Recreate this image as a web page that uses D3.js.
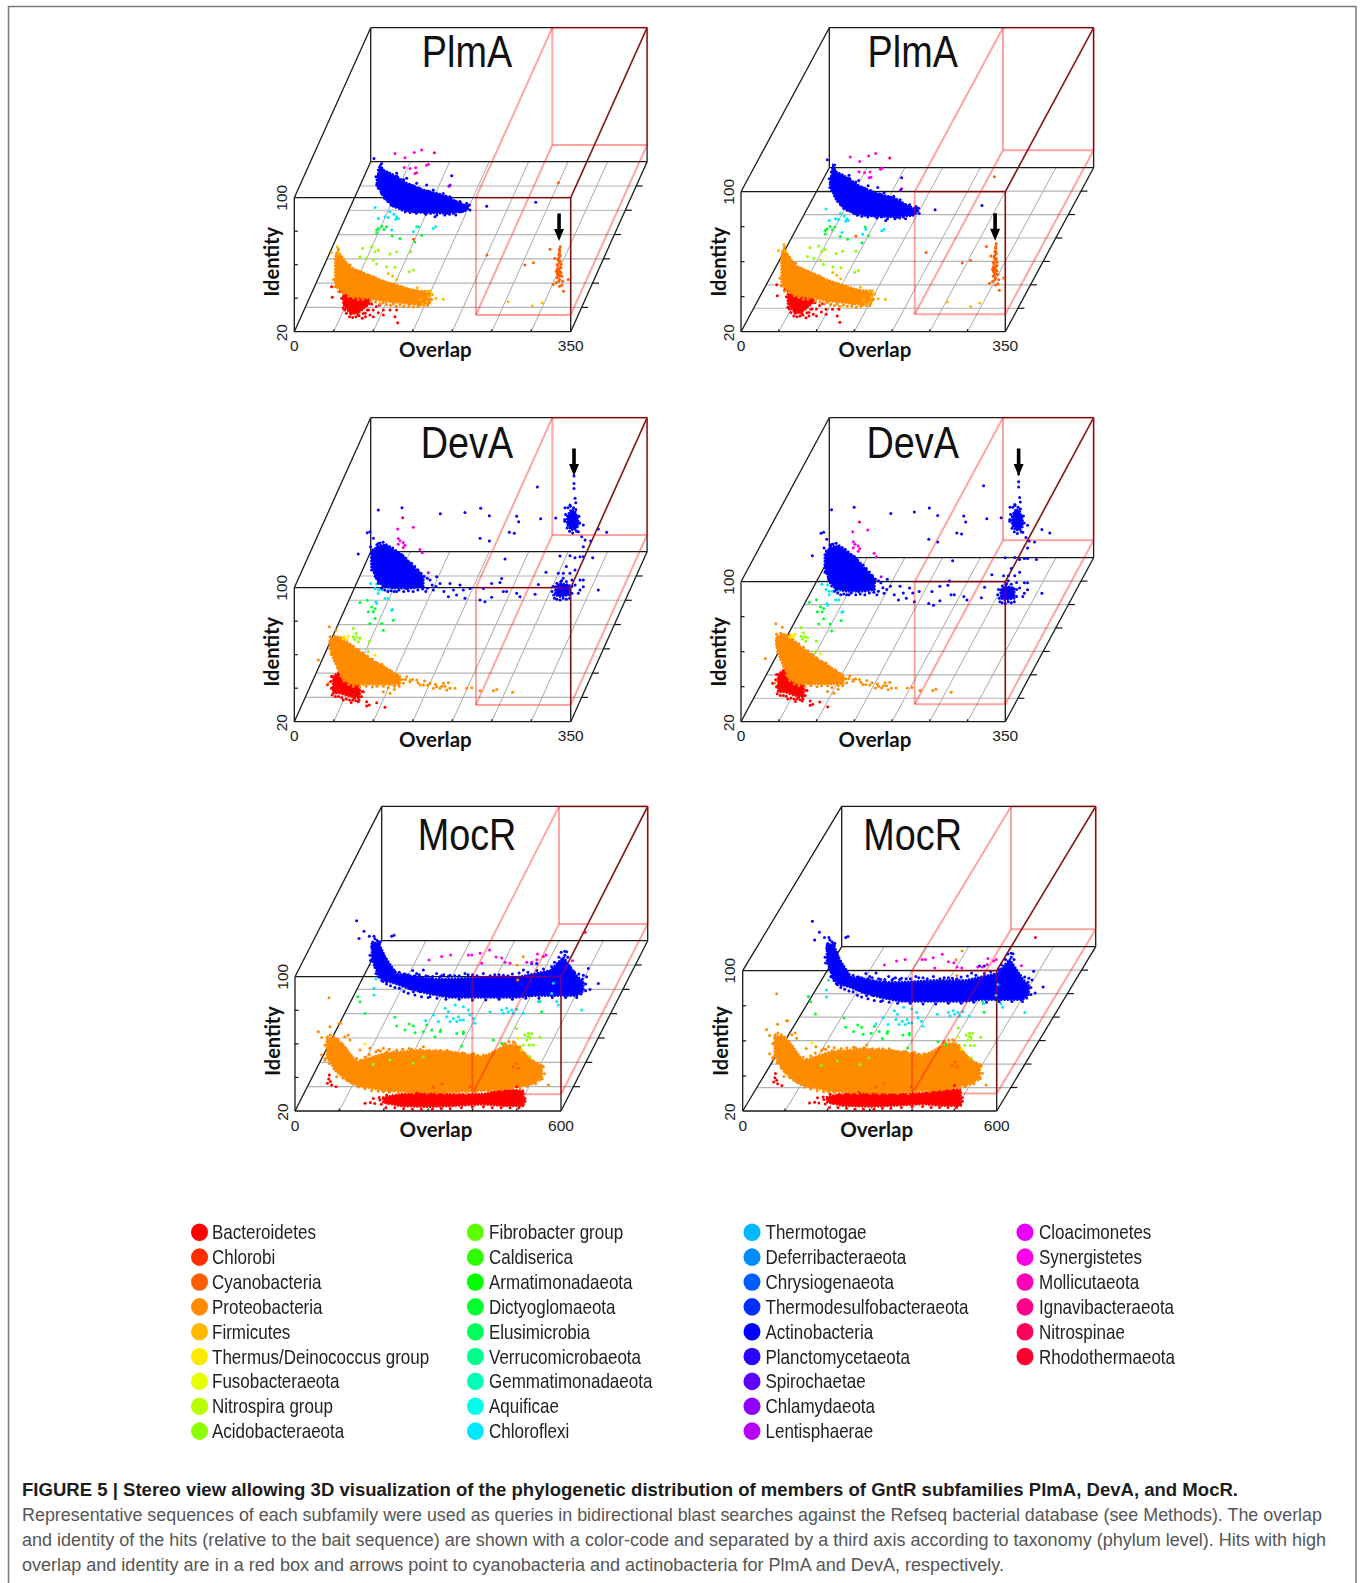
<!DOCTYPE html>
<html><head><meta charset="utf-8">
<script src="https://cdn.jsdelivr.net/npm/d3@7/dist/d3.min.js"></script>
<style>html,body{margin:0;padding:0;background:#fff}svg{display:block}</style>
</head><body><div id="chart"></div>
<script>
// ---------- categories ----------
const phyla = ["Bacteroidetes","Chlorobi","Cyanobacteria","Proteobacteria","Firmicutes","Thermus/Deinococcus group","Fusobacteraeota","Nitrospira group","Acidobacteraeota",
"Fibrobacter group","Caldiserica","Armatimonadaeota","Dictyoglomaeota","Elusimicrobia","Verrucomicrobaeota","Gemmatimonadaeota","Aquificae","Chloroflexi",
"Thermotogae","Deferribacteraeota","Chrysiogenaeota","Thermodesulfobacteraeota","Actinobacteria","Planctomycetaeota","Spirochaetae","Chlamydaeota","Lentisphaerae",
"Cloacimonetes","Synergistetes","Mollicutaeota","Ignavibacteraeota","Nitrospinae","Rhodothermaeota"];
const RED=0,CYANO=2,PROTEO=3,FIRMI=4,THERMUS=5,ACIDO=8,DICTYO=12,CHLORO=17,ACTINO=22,CHLAMY=25,LENTI=26,SYNER=28,RHODO=32;

// ---------- dense clusters: [overlap, identity low, identity high] ----------
const plmaActinoCore=[[40,40,43],[44,37,52],[48,33,49],[61,27,46],[78,24.6,41],[99,23.4,37],[124,23,34],[150,24,28],[156,26,28]];
const plmaProteoCore=[[43,40,54],[46,37,59],[62,32,49],[83,31,45],[104,29,41],[125,28,38],[146,27,35],[163,28,35]];
const plmaRedCore=[[62,36,47],[71,31,47],[83,32,47],[96,37,45]];
const devaActinoCore=[[33,45,53],[40,37,57],[48,33,58],[61,32,55],[74,32,51],[86,32,45],[99,33,39]];
const devaActinoCore2=[[266,28,33],[272,27,35],[284,28,34]];
const devaActinoCore3=[[281,70,75],[286,67,79],[291,67,78],[295,69,73]];
const devaProteoCore=[[36,55,59],[41,48,61],[53,36,60],[66,33,55],[79,33,51],[91,33,47],[104,33,44],[117,33,40],[125,33,38]];
const devaRedCore=[[49,37,47],[58,37,50],[71,35,48],[83,34,41]];
const mocrActinoCore=[[43,43,52],[58,33,53],[73,30,44],[99,28,34],[129,25,33],[174,22,31],[219,20,31],[295,20,32],[370,20,32],[407,21,34],[445,21,36],[475,21,44],[505,21,33],[520,24,29]];
const mocrProteoCore=[[54,43,54],[76,34,54],[95,30,49],[121,26,40],[182,23,45],[257,22,47],[332,22,46],[407,23,43],[460,24,50],[482,25,50],[520,27,40],[539,31,38]];
const mocrRedCore=[[199,25,28],[237,23,30],[300,22.5,31],[350,23,30],[425,24,30],[470,23,33],[515,23,32]];

// ---------- individual hits: [overlap, identity] ----------
const plmaActino=[[36.4,55.8],[46.1,52.8],[44,50.8],[41.9,48.9],[38.9,44.9],[39.8,39.9],[46.1,36.9],[54.6,32.9],[60.9,30],[69.3,26],[77.8,25],[86.2,24],[98.9,24],[113.7,21],[128.5,23],[136.9,23],[65.1,46.9],[77.8,43.9],[90.4,40.9],[103.1,39.9],[111.5,36.9],[124.2,34.9],[134.8,45.5],[132.7,32.9],[145.3,30],[153.8,29],[157.2,28],[149.5,24.6],[179.1,27.2],[241.2,29.6],
[42,46],[47,49],[52,47.5],[56,47],[60,45.5],[66,45],[70,43],[74,43],[82,40],[86,39.5],[94,38],[100,36.5],[106,36],[112,34.5],[118,34],[124,33],[128,33],[134,31],[140,30],[146,29],[152,28],
[42,38],[46,35],[50,32],[54,30],[58,28],[64,27],[68,27],[72,25],[76,24],[82,23.5],[90,23],[94,24],[102,22.5],[108,23],[116,22],[120,23.5],[126,22],[132,22.5],[140,22],[146,24],[152,25],[158,25]];
const plmaChlamy=[[122.6,29.9],[124,30.7]];
const plmaSyner=[[45.4,40.3],[58,37.7],[69.9,40.9],[79.2,42.3],[57.2,31.9],[64.4,31.3],[71.6,31.7],[85.5,33.3],[87.6,33.9],[70.7,28.4],[72.8,28.8]];
const plmaRhodo=[[83.6,28.4]];
const plmaChloro=[[52.4,41.9],[71.4,39.3],[65,36.3],[56.6,35.3],[79.8,36.3],[78.5,34.9],[73.5,28.4],[100.9,27.4],[126.2,29.4],[129.2,30.3],[105.1,30.3],[81.9,35.3],[76.4,37.9],[69.2,35.9]];
const plmaDictyo=[[69.1,41.7],[71.2,44.7],[75.4,46.1],[81.7,45.7],[88.9,40.3],[98.6,38.7],[117.6,36.7],[126.1,40.7],[121.9,45.7],[69.1,43.7],[78.4,44.1]];
const plmaAcido=[[74.5,46.2],[78.7,43.2],[63.1,45.2],[59.7,40.2],[68.1,39.2],[76.6,38.2],[80.8,35.8],[82.9,44.2],[106.1,43.2],[97.7,41.8],[124,43.2],[93.5,34.2],[104,33.8],[127.2,32.2],[122.1,31.2]];
const plmaFirmi=[[35.5,55],[42.7,58.4],[44,54.4],[155.9,31.5],[155.9,25.6],[150.8,24.2],[177,27],[167.7,27.6],[107.3,42.5],[112.8,40.9],[117.9,38.9],[259,25.6],[290,23],[302,25],[160,32],[158,28.5],[162,30],[148,27],[144,34]];
const plmaProteo=[[42.7,37.6],[47,34.6],[53.3,33.7],[44.8,57.5],[48.2,54.5],[61.7,50.6],[74.4,46.6],[91.3,43.6],[103.9,40.6],[120.8,37.6],[133.5,35.6],[146.2,35.2],[154.6,33.7],[137.7,27.3],[125,26.7],[116.6,27.3],[103.9,28.1],[150.4,26.7],[161,27.7],
[44,56],[47,60],[50,52],[54,51],[58,50],[65,48.5],[70,47.5],[78,46],[86,44.5],[94,43],[98,42],[110,39.5],[116,39],[128,37.5],[136,36],[142,35.5],[150,34],[158,33.5],
[41,42],[44,38],[50,36],[56,34],[60,32],[66,31],[72,30],[78,30],[88,29],[94,28.5],[100,27.5],[108,27],[113,26.5],[120,26],[130,26],[136,26],[142,25.5],[148,26],[155,26.5],[160,26.5],[165,30],[166,33]];
const plmaRed=[[47.3,46.9],[48.1,40.5],[64.2,40.9],[66.3,35.9],[70.5,32.9],[81,30],[87.4,30.9],[95.8,30],[100,29],[106.4,31.3],[112.7,32.9],[112.7,30],[121.2,32.9],[129.6,32.9],[130.9,25.4],[127.5,29],[98,36.5],[92.5,32.9],
[58,44],[60,40],[62,34],[66,31],[70,29],[74,28.5],[78,29],[82,29.5],[86,28],[90,31],[94,33],[100,33],[104,35],[108,36],[90,29],[76,31],[72,30.5],[64,33],[68,34],[80,31]];
const plmaCyano=[[331,64.6],[330,62],[329,60],[331,59],[328,57],[330,55],[327,54],[332,52],[329,51],[326,50],[331,49],[328,48],[333,47],[327,46],[330,45],[334,44],[326,43],[322,42],[330,41],[335,38],[329,58],[331,56],[328,53],[330,50],[329,47],[327,49],[332,54],[318,63],[324,57.6],[238,59.6],[286,53.6],[297,55],[341,45],[333,41.7],[145,69],[328.5,102.8],[330,60.5],[330,63],[329,56],[331,52],[328,50],[330,47.5],[332,49],[327,51.5],[329,44]];

const devaActino=[[41.9,78.7],[71.9,80],[120.4,76.5],[151.6,77.3],[171.5,79.7],[182.5,75.3],[243.3,92.4],[217,75],[219.6,71.7],[247.5,73.5],[266.5,74],[170.7,61.8],[182.5,60.2],[207.8,65.4],[214.1,64.8],[202.3,49.5],[289.7,99],[289.7,94.6],[289.7,91.6],[291,85.7],[291.9,83],[278.3,80],[284.6,81.7],[301.5,69.8],[295.2,65.8],[299.4,62.8],[303.7,60.8],[301.5,56.8],[310.8,60.2],[331,65.4],[320.5,67.4],[301.5,50.8],[313.3,50.2],[271.9,51.2],[284.6,51.4],[291,50.2],[297.3,50.8],[269.8,40.9],[276.2,40.9],[284.6,40.9],[291,42.9],[297.3,36.9],[301.5,36.9],[254.3,41.5],[244.6,34.3],[240.4,28.4],[320.5,30.9],[297.3,30.9],[301.5,32.9],[291,33.9],[295.2,29],[107.3,36.9],[115.8,38.9],[120,34.9],[111.5,30.9],[132.7,34.9],[145.3,33.9],[158,31.9],[151.6,26],[141,28],[130.6,27],[174.9,31.9],[185.4,34.9],[198,37.9],[200.2,30],[204.4,30],[177,24],[185.4,26.6],[170.7,25],[217.1,29],[221.3,27],[196,35.5],[149.5,31],[16.5,52.4],[31.4,65.8],[28,65.2],[35.6,61.8],[41.9,58.8],[32,56.8],[33.4,42.9],[46,36.9],[48.2,32.9],[65,30],[77.8,31.9],[88.3,33.9],[96.8,33],[102,30],[110,34],[125,30],[137,31],[288,72.5],[284,71],[293,75],[278,73],[280,45],[287,37],[273,36],[276,38],
[35,55],[37,51],[40,58],[44,59],[48,59.5],[52,58],[56,57],[60,56],[64,54.5],[68,53],[72,52],[76,50],[80,48],[84,47],[88,45],[92,43],[96,41],[100,39],[104,38],
[36,43],[38,39],[42,35],[46,32],[50,31],[54,30],[58,30.5],[62,30],[68,31],[74,30],[80,30.5],[86,30],[92,31],[98,31.5],[104,32],[115,33],
[262,30],[263,33],[265,26],[268,25.5],[272,25],[276,26],[280,25.5],[284,26],[287,29],[287,33],[280,36],[274,36.5],[268,35],[264,28],
[278,72],[279,76],[282,80],[285,81],[289,80],[292,79],[296,75],[297,71],[293,66],[288,65],[284,66],[281,68]];
const devaSyner=[[48.8,49],[68.6,50],[49.6,43.3],[51.7,41.9],[55.9,40.9],[49.6,39.9],[58,39.3],[55.9,37.9],[77,36.7],[80,34.7]];
const devaRhodo=[[43.5,43.3]];
const devaLenti=[[93.5,29]];
const devaChloro=[[46.9,50.2],[54.5,49.9],[52.4,47.3],[56.6,46.3],[60.8,46.3],[69.2,46.3],[56.6,44.3],[69.2,41.3],[65,41.3],[53.6,39.3],[54.5,38.3],[73.5,34.3],[74.7,34.7]];
const devaDictyo=[[48,54.2],[57.3,55.6],[62.7,51.6],[58.5,48.7],[67,50.6],[64.9,48.7],[67,44.7],[60.6,41.7],[75.4,41.7],[77.5,37.7],[90.2,43.7]];
const devaThermus=[[49.4,55.4],[53.7,55.8],[87.4,44.5],[52,54],[47,54]];
const devaAcido=[[51.3,51.1],[51.3,46.1],[54.6,48.1],[59.7,45.2],[57.6,43.2],[71.5,43.2],[70.2,37.2],[56,46],[53,44.5]];
const devaProteo=[[120.8,37.6],[125,35.6],[133.5,37.6],[137.7,34.6],[146.2,35.6],[150.4,32.7],[163,33.7],[171.5,31.7],[180,33.7],[186.3,34],[188.4,30.7],[184.2,29.7],[194.7,30.7],[209.5,30.7],[215.8,31],[226.4,29.3],[243.3,29.3],[247.5,30],[267.7,28.3],[112.4,27.7],[103.9,28.7],[21.6,47.6],[35.5,67.5],[44,65.5],[36.4,61.5],[34.2,33.6],[154.6,32.7],[167.3,30.7],[175.7,30.7],[129.3,33.7],[118,30],[128,36],[141,36],[156,35],[178,32],
[38,60],[42,62],[46,61.5],[50,61],[54,61],[58,58.5],[62,57],[66,56],[72,54],[78,52],[84,50],[90,48],[96,46],[102,45],[108,42],[114,41],[120,39],
[38,51],[42,47],[46,43],[50,38],[54,35],[60,33],[66,32],[74,31.5],[82,32],[90,31.5],[96,32],[104,32],[110,31],[118,32],[124,32],[132,36],[138,35.5],[148,34],[160,32.5],[170,33],[182,32]];
const devaRed=[[87.4,37.9],[91.6,31.9],[81,31.9],[104.3,31.3],[95,30],[114.8,28.6],[91.6,29.4],[42,42],[47,47],
[46,44],[47,40],[48,36],[52,35],[56,35],[60,34.5],[66,33.5],[70,33],[74,33],[78,32.5],[82,33],[85,35],[86,38],[80,36],[62,33],[72,31.5],[76,34]];

const mocrActino=[[8.7,65.7],[25.3,59.5],[14,55.1],[37.3,56.5],[47.8,56.5],[87.7,56.5],[92.9,57.1],[61.4,53.2],[42.6,50.2],[38.8,45.2],[52.3,34.3],[65.1,30.3],[76.4,29.3],[91.4,34.3],[106.5,32.3],[121.5,26.4],[136.5,23.4],[144,34.3],[159,36.3],[189,34.3],[219.2,33.3],[174.1,20.4],[527.5,32.3],[553.8,28.3],[535,24.8],[482.4,47.2],[478.6,45.2],[520,33.3],[531.3,37.3],[429.8,34.3],[253,34.3],[294.5,34.3],[339.6,33.3],[384.7,36.3],[403.5,40.2],[414.8,40.2],[448.6,38.3],[463.6,40.2],[129,30.3],[144,27.3],[91.4,30.3],[110.2,29.3],[129,25.4],[151.6,23.4],[170.4,26.4],[159,31.3],[177.9,31.3],[196.7,32.3],[115,34],[135,36],[165,33],[205,33.5],[230,33],[270,33.5],[320,33.5],[360,34],
[45,53],[50,55],[55,54],[60,52],[65,48],[70,45],[75,43],[80,40],[85,38],[95,35.5],[105,35],[118,34],[125,33.5],[140,33],[150,33.5],[170,32.5],[180,32.5],[200,33],[215,32.5],[240,33],[260,33.5],[280,33],[310,33],[330,33.5],[350,33],[375,34.5],[395,35],[415,36],[430,37],[455,41],[465,44],[470,47],[478,47.5],[485,44],[490,38],[500,35],[510,34],[518,31],[525,28],
[40,42],[50,38],[55,34],[60,32],[68,29.5],[76,28],[85,27],[95,26],[105,25.5],[115,23.5],[125,22.5],[140,21.5],[155,20.5],[170,20],[190,19.5],[210,19],[240,19],[270,18.5],[300,18.5],[330,19],[360,19],[390,19.5],[420,19.5],[450,20],[480,20],[505,20],[515,22],[525,24]];
const mocrSyner=[[136.5,23.8],[165,26],[185.3,26.9],[225.2,26.9],[232.8,26.9],[251.5,27.9],[273,29.9],[287.5,25.6],[300.4,25],[307.9,22.6],[319.2,22],[356.8,22.6],[368,22.6],[379.4,24],[380.9,27.5],[394.4,26],[400.4,26.9],[459.8,23.4],[255.3,22]];
const mocrChloro=[[82,46.4],[77.5,40.8],[77.5,36.8],[237.7,28.9],[260.3,30.9],[245.2,26.9],[279,29.9],[290.3,27.9],[294,24.9],[241.4,23.9],[249,21],[264,21],[271.5,21.9],[279,21.9],[301.7,22.9],[305.4,20],[339.2,26.9],[365.5,27.9],[376.7,28.9],[388,27.9],[391.8,25.9],[414.4,25.9],[448.2,32.9],[489.6,32.9],[493.3,30.9],[546,27.9],[482,43.8],[478.2,37.8],[222.7,21],[211.4,24.9],[194.3,21.5],[267.8,23.9],[256.5,22.9],[369.2,25.9],[380.5,26.9],[399.3,28.3]];
const mocrDictyo=[[70.2,51.2],[75.6,48.2],[86.8,41.2],[154.4,38.9],[158.2,33.7],[177,31.3],[186.8,34.9],[195.8,33.7],[199.6,29.7],[225.9,34.3],[218.4,30.3],[237.2,31.3],[244.7,27.3],[256,30.3],[257.6,31.3],[293.6,29.3],[308.6,30.3],[376.4,25.4],[395.2,23.4],[481.6,48.2],[485.3,42.2],[304.9,21.8],[308.6,29.3]];
const mocrAcido=[[452.6,44.6],[471.4,40.6],[479,41.6],[486.5,41.6],[475.2,37.7],[482.7,38.7],[490.2,34.7],[505.3,39.3],[467.7,34.7],[481.2,34.7],[482.7,27.7],[479,39.7],[129.3,23.2],[219.6,23.8],[166.9,25.8],[242,27.7]];
const mocrThermus=[[474,48],[128.2,44.7],[481.7,41]];
const mocrProteo=[[59,78.3],[85,63],[497,102.7],[484.6,88.8],[483,97.7],[34.9,58],[42.4,54.6],[61.2,61],[82.3,63],[49.9,41.1],[42.4,44.1],[106.3,53],[151.4,48.1],[181.5,48.1],[211.6,47.1],[271.7,49.1],[331.9,46.1],[407.1,44.1],[452.2,50.1],[474.7,52.1],[542.4,37.2],[553.7,26.3],[534.9,29.2],[512.3,27.2],[181.5,22.3],[234.1,21.7],[301.8,21.3],[369.5,21.3],[436.9,23.3],[76.2,31.2],[106.3,28.2],[136.4,25.3],[128.9,47.1],[95,55],[102.5,56],[67.2,49.1],[121.3,42.1],[170,47],[195,47.5],[240,48],[300,47],[360,45.5],[385,45],
[50,50],[56,55],[62,56],[70,55],[80,53],[88,51],[96,48],[104,44],[112,42],[130,41],[140,43],[150,44.5],[165,46],[175,46.5],[190,46],[205,46],[225,47.5],[245,47.5],[265,47.5],[285,47],[310,47],[325,47],[345,45.5],[365,45],[380,44.5],[395,44],[415,43.5],[430,45],[445,48],[455,51],[465,52],[478,51.5],[490,49],[500,45],[510,42],[520,40.5],[530,39],[540,37.5],
[50,42],[60,39],[70,36],[80,33.5],[90,30.5],[100,29],[110,27.5],[125,25],[140,24],[155,23],[170,22.5],[195,22],[215,21.5],[250,21.5],[280,21.5],[320,21.5],[345,21.5],[390,22],[420,22.5],[450,23.5],[470,24],[490,24.5],[505,25.5],[525,27],[540,30],[545,33]];
const mocrCyano=[[488,42.2],[480.6,40.2],[492,39.3],[382.8,28.3],[300,28],[320,30]];
const mocrRed=[[77.4,41.4],[72.9,36.5],[82.7,35.5],[92.5,34.5],[157.9,24.6],[176.7,27.5],[191.7,26.6],[206.8,29.5],[221.8,25.6],[274.4,30.5],[500,34.5],[518.8,27.5],[518.8,25.6],
[205,22],[225,22],[245,21.5],[265,21],[285,21],[310,21],[330,21.5],[350,21.5],[375,22],[400,22.5],[425,22.5],[445,22],[465,22],[485,22],[505,22],[515,24],[195,24],[180,24.5],[170,25],[190,28],[80,37.5],[76,39]];
const mocrRhodo=[[464.7,28.1]];

// ---------- families ----------
const families = {
  PlmA:{max:350,xTicks:[0,50,100,150,200,250,300,350],box:230,
    cores:[[RED,plmaRedCore],[PROTEO,plmaProteoCore],[ACTINO,plmaActinoCore]],
    hits:[[RED,plmaRed],[CYANO,plmaCyano],[PROTEO,plmaProteo],[FIRMI,plmaFirmi],[ACIDO,plmaAcido],[DICTYO,plmaDictyo],[CHLORO,plmaChloro],[ACTINO,plmaActino],[CHLAMY,plmaChlamy],[SYNER,plmaSyner],[RHODO,plmaRhodo]],
    arrow:[CYANO,329.4,[68,66.3]]},
  DevA:{max:350,xTicks:[0,50,100,150,200,250,300,350],box:230,
    cores:[[RED,devaRedCore],[PROTEO,devaProteoCore],[ACTINO,devaActinoCore],[ACTINO,devaActinoCore2],[ACTINO,devaActinoCore3]],
    hits:[[RED,devaRed],[PROTEO,devaProteo],[THERMUS,devaThermus],[ACIDO,devaAcido],[DICTYO,devaDictyo],[CHLORO,devaChloro],[ACTINO,devaActino],[LENTI,devaLenti],[SYNER,devaSyner],[RHODO,devaRhodo]],
    arrow:[ACTINO,289.7,[99,97.9]]},
  MocR:{max:600,xTicks:[0,100,200,300,400,500,600],box:400,
    cores:[[RED,mocrRedCore],[PROTEO,mocrProteoCore],[ACTINO,mocrActinoCore]],
    hits:[[RED,mocrRed],[CYANO,mocrCyano],[PROTEO,mocrProteo],[THERMUS,mocrThermus],[ACIDO,mocrAcido],[DICTYO,mocrDictyo],[CHLORO,mocrChloro],[ACTINO,mocrActino],[SYNER,mocrSyner],[RHODO,mocrRhodo]]}
};
const identityTicks=[20,40,60,80,100];
const depthDivisions=[0,1,2,3,4,5,6,7];
const boxIdentityFloor=30;

// ---------- layout (stereo views of the same data) ----------
const views=[
 {fam:"PlmA",eye:0,ox:294.3,by:331.7,w:276.4,h:134,dx:76.4,dy:170,titleX:467,titleY:66.7},
 {fam:"PlmA",eye:1,ox:741,by:331.7,w:264.3,h:140,dx:88.3,dy:164,titleX:912.7,titleY:66.7},
 {fam:"DevA",eye:0,ox:294.3,by:721.7,w:276.4,h:134,dx:76.4,dy:170,titleX:467,titleY:458.3},
 {fam:"DevA",eye:1,ox:741,by:721.7,w:264.3,h:140,dx:88.3,dy:164,titleX:912.7,titleY:458.3},
 {fam:"MocR",eye:0,ox:295,by:1111,w:266,h:134.3,dx:86.7,dy:170.3,titleX:467,titleY:850},
 {fam:"MocR",eye:1,ox:742.7,by:1111,w:254,h:140.3,dx:99,dy:164.3,titleX:912.7,titleY:850}
];
const legendDotX=[199.5,475.4,752,1025], legendTextX=[212,489,765.5,1039], legendRows=[9,9,9,6];
const captionHead="FIGURE 5 | Stereo view allowing 3D visualization of the phylogenetic distribution of members of GntR subfamilies PlmA, DevA, and MocR.";
const captionLines=[
 ["Representative sequences of each subfamily were used as queries in bidirectional blast searches against the Refseq bacterial database (see Methods). The overlap",1322],
 ["and identity of the hits (relative to the bait sequence) are shown with a color-code and separated by a third axis according to taxonomy (phylum level). Hits with high",1326],
 ["overlap and identity are in a red box and arrows point to cyanobacteria and actinobacteria for PlmA and DevA, respectively.",1004]];

const color=d3.scaleLinear().domain([0,phyla.length]).range([0,360]);
const hue=i=>d3.hsl(color(i),1,.5).formatHex();
const depth=d3.scaleLinear().domain([0,phyla.length]).range([0,1]);

const svg=d3.select("#chart").append("svg").attr("width",1360).attr("height",1583).attr("viewBox","0 0 1360 1583");
const sans="'Liberation Sans',Arial,sans-serif";
svg.append("path").attr("d","M8.5,1583V6.5H1356V1583").attr("fill","none").attr("stroke","#7a7a7a").attr("stroke-width",1.5);

views.forEach(v=>{
  const F=families[v.fam];
  const x=d3.scaleLinear().domain([0,F.max]).range([v.ox,v.ox+v.w]);
  const y=d3.scaleLinear().domain([20,100]).range([v.by,v.by-v.h]);
  const zx=d3.scaleLinear().domain([0,1]).range([0,v.dx]);
  const zy=d3.scaleLinear().domain([0,1]).range([0,-v.dy]);
  const P=(o,i,f)=>[x(o)+zx(f),y(i)+zy(f)];
  const g=svg.append("g").style("filter","blur(0.3px)");
  const seg=(a,b,col,wd,op)=>g.append("line").attr("x1",a[0]).attr("y1",a[1]).attr("x2",b[0]).attr("y2",b[1]).attr("stroke",col).attr("stroke-width",wd).attr("stroke-opacity",op==null?1:op);
  const M=F.max;
  // floor grid
  F.xTicks.slice(1,-1).forEach(t=>seg(P(t,20,0),P(t,20,1),"#a8a8a8",1));
  depthDivisions.slice(1,-1).forEach(d=>seg(P(0,20,d/7),P(M,20,d/7),"#b4b4b4",1.2));
  // frame
  const fr=[[P(0,100,1),P(M,100,1)],[P(0,100,1),P(0,20,1)],[P(0,20,1),P(M,20,1)],[P(M,100,1),P(M,20,1)],
            [P(0,100,0),P(M,100,0)],[P(0,100,0),P(0,20,0)],[P(0,20,0),P(M,20,0)],[P(M,100,0),P(M,20,0)],
            [P(0,100,0),P(0,100,1)],[P(M,100,0),P(M,100,1)],[P(0,20,0),P(0,20,1)],[P(M,20,0),P(M,20,1)]];
  fr.forEach(s=>seg(s[0],s[1],"#1a1a1a",1.3));
  identityTicks.slice(1,-1).forEach(t=>{const p=P(0,t,0);seg(p,[p[0]+3.5,p[1]],"#111",1.2);});
  F.xTicks.slice(1,-1).forEach(t=>{const p=P(t,20,0);seg(p,[p[0],p[1]-2.5],"#111",1.2);});
  depthDivisions.slice(1,-1).forEach(d=>{const p=P(M,20,d/7);seg(p,[p[0]+6.5,p[1]],"#111",1.2);});

  // dense clusters
  F.cores.forEach(([ph,rows])=>{
    const f=depth(ph);
    g.append("path").datum(rows).attr("d",d3.area().x(d=>x(d[0])+zx(f)).y0(d=>y(d[1])+zy(f)).y1(d=>y(d[2])+zy(f)))
      .attr("fill",hue(ph)).attr("stroke",hue(ph)).attr("stroke-width",2.6).attr("stroke-linecap","round").attr("stroke-dasharray","0.1 3.1");
  });
  // hits
  F.hits.forEach(([ph,pts])=>{
    const f=depth(ph);
    g.append("g").selectAll("circle").data(pts).join("circle")
      .attr("cx",d=>P(d[0],d[1],f)[0]).attr("cy",d=>P(d[0],d[1],f)[1]).attr("r",1.5).attr("fill",hue(ph));
  });
  // red box
  const b=F.box, I=boxIdentityFloor;
  [[P(b,100,0),P(M,100,0)],[P(b,I,0),P(M,I,0)],[P(b,100,0),P(b,I,0)],[P(M,100,0),P(M,I,0)],
   [P(b,100,1),P(M,100,1)],[P(b,I,1),P(M,I,1)],[P(b,100,1),P(b,I,1)],[P(M,100,1),P(M,I,1)],
   [P(b,100,0),P(b,100,1)],[P(M,100,0),P(M,100,1)],[P(b,I,0),P(b,I,1)],[P(M,I,0),P(M,I,1)]]
   .forEach(s=>seg(s[0],s[1],"#ff0000",2,.36));
  // arrow
  if(F.arrow){
    const [ph,o,ids]=F.arrow, t=P(o,ids[v.eye],depth(ph));
    g.append("path").attr("d",d3.line()([[t[0],t[1]],[t[0]-5,t[1]-12],[t[0]-1.8,t[1]-12],[t[0]-1.8,t[1]-27.5],[t[0]+1.8,t[1]-27.5],[t[0]+1.8,t[1]-12],[t[0]+5,t[1]-12]])+"Z").attr("fill","#000");
  }
  // text
  svg.append("text").text(v.fam).attr("transform",`translate(${v.titleX},${v.titleY}) scale(.84,1)`).attr("text-anchor","middle")
     .attr("font-family",sans).attr("font-size",45).attr("fill","#111");
  const tick=(txt,px,py,rot)=>svg.append("text").text(txt).attr("transform",`translate(${px},${py})`+(rot?" rotate(-90)":"")).attr("text-anchor","middle").attr("dy","0.36em").attr("font-family",sans).attr("font-size",15.5).attr("fill","#222");
  tick(String(identityTicks[4]),v.ox-13,y(100),true);
  tick(String(identityTicks[0]),v.ox-13,v.by+1,true);
  tick("0",x(0),v.by+14);
  tick(String(M),x(M),v.by+14);
  const lab="Lato,'Open Sans',sans-serif";
  svg.append("text").text("Identity").attr("transform",`translate(${v.ox-15},${v.by-70}) rotate(-90)`).attr("text-anchor","middle").attr("font-family",lab).attr("font-weight",700).attr("font-size",20).attr("fill","#111");
  svg.append("text").text("Overlap").attr("x",v.ox+(v.eye?134:141)).attr("y",v.by+25.5).attr("text-anchor","middle").attr("font-family",lab).attr("font-weight",700).attr("font-size",20.5).attr("fill","#111");
});

// legend
const lg=svg.append("g").style("filter","blur(0.25px)");
let idx=0;
legendRows.forEach((n,c)=>{
  for(let r=0;r<n;r++,idx++){
    const cy=1232.3+r*24.85;
    lg.append("ellipse").attr("cx",legendDotX[c]).attr("cy",cy).attr("rx",8.5).attr("ry",8.8).attr("fill",hue(idx));
    lg.append("text").text(phyla[idx]).attr("transform",`translate(${legendTextX[c]},${cy+7}) scale(.85,1)`).attr("font-family",sans).attr("font-size",20).attr("fill","#222");
  }
});
// caption
const cp=svg.append("g").attr("font-family",sans);
cp.append("text").text(captionHead).attr("x",22).attr("y",1496).attr("font-size",17.5).attr("font-weight",700).attr("fill","#1c1c1c").attr("textLength",1216).attr("lengthAdjust","spacingAndGlyphs");
captionLines.forEach((l,i)=>cp.append("text").text(l[0]).attr("x",22).attr("y",1520.7+i*25).attr("font-size",17.5).attr("fill","#555").attr("textLength",l[1]-22).attr("lengthAdjust","spacingAndGlyphs"));
</script></body></html>
